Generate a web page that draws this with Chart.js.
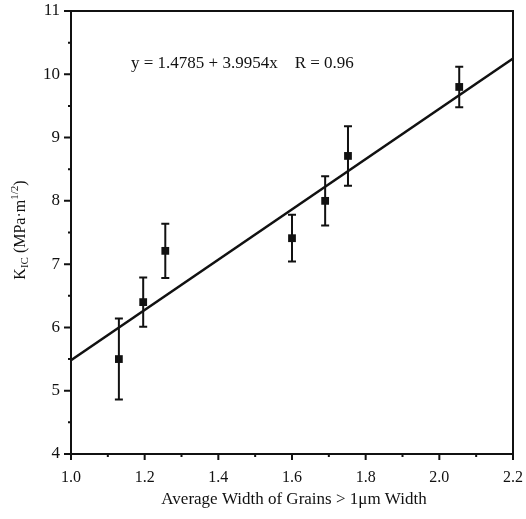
<!DOCTYPE html>
<html>
<head>
<meta charset="utf-8">
<script src="https://cdn.jsdelivr.net/npm/chart.js@4.4.1/dist/chart.umd.min.js"></script>
<style>
html,body{margin:0;padding:0;background:#fff;}
#wrap{width:526px;height:519px;}
</style>
</head>
<body>
<div id="wrap"><canvas id="c" width="526" height="519"></canvas></div>
<script>
// Data
const grainWidth = [1.13, 1.196, 1.256, 1.60, 1.69, 1.752, 2.054];
const kic        = [5.50, 6.40, 7.21, 7.41, 8.00, 8.71, 9.80];
const kicErr     = [0.64, 0.39, 0.43, 0.37, 0.39, 0.47, 0.32];
const fitX = [1.0, 2.2];
const fitY = [5.48, 10.25];
const xTickValues = [1.0, 1.2, 1.4, 1.6, 1.8, 2.0, 2.2];
const yTickValues = [4, 5, 6, 7, 8, 9, 10, 11];
const equationText = 'y = 1.4785 + 3.9954x    R = 0.96';
const xTitle = 'Average Width of Grains > 1\u03bcm Width';

const SERIF = '"Liberation Serif", "DejaVu Serif", serif';

const framePlugin = {
  id: 'frame',
  afterDatasetsDraw(chart) {
    const ctx = chart.ctx;
    const xs = chart.scales.x, ys = chart.scales.y;
    const ca = chart.chartArea;
    ctx.save();
    // error bars
    ctx.strokeStyle = '#111';
    ctx.lineWidth = 2;
    for (let i = 0; i < grainWidth.length; i++) {
      const px = xs.getPixelForValue(grainWidth[i]);
      const top = ys.getPixelForValue(kic[i] + kicErr[i]);
      const bot = ys.getPixelForValue(kic[i] - kicErr[i]);
      ctx.beginPath();
      ctx.moveTo(px, top); ctx.lineTo(px, bot);
      ctx.moveTo(px - 4, top); ctx.lineTo(px + 4, top);
      ctx.moveTo(px - 4, bot); ctx.lineTo(px + 4, bot);
      ctx.stroke();
    }
    // frame
    ctx.lineWidth = 2;
    ctx.strokeRect(ca.left, ca.top, ca.right - ca.left, ca.bottom - ca.top);
    // x ticks (outward)
    ctx.beginPath();
    for (let v = 10; v <= 22; v++) {
      const px = xs.getPixelForValue(v / 10);
      const len = (v % 2 === 0) ? 6 : 3;
      ctx.moveTo(px, ca.bottom); ctx.lineTo(px, ca.bottom + len);
    }
    // y ticks (outward)
    for (let v = 8; v <= 22; v++) {
      const py = ys.getPixelForValue(v / 2);
      const len = (v % 2 === 0) ? 7 : 3;
      ctx.moveTo(ca.left, py); ctx.lineTo(ca.left - len, py);
    }
    ctx.stroke();

    ctx.fillStyle = '#111';
    // equation
    ctx.font = '17px ' + SERIF;
    ctx.textAlign = 'left';
    ctx.textBaseline = 'middle';
    ctx.fillText(equationText, 131, 64);
    // x title
    ctx.textAlign = 'center';
    ctx.fillText(xTitle, 294, 500);
    // y title with sub/superscripts
    ctx.translate(21, 230);
    ctx.rotate(-Math.PI / 2);
    const parts = [
      {t: 'K', f: '16px ', dy: 0},
      {t: 'IC', f: '11px ', dy: 4},
      {t: ' (MPa\u00b7m', f: '16px ', dy: 0},
      {t: '1/2', f: '11px ', dy: -6},
      {t: ')', f: '16px ', dy: 0}
    ];
    let total = 0;
    parts.forEach(p => { ctx.font = p.f + SERIF; p.w = ctx.measureText(p.t).width; total += p.w; });
    let x0 = -total / 2;
    ctx.textAlign = 'left';
    parts.forEach(p => { ctx.font = p.f + SERIF; ctx.fillText(p.t, x0, p.dy); x0 += p.w; });
    ctx.restore();
  }
};

new Chart(document.getElementById('c'), {
  type: 'scatter',
  data: {
    datasets: [
      {
        type: 'line',
        data: fitX.map((x, i) => ({x: x, y: fitY[i]})),
        borderColor: '#111',
        borderWidth: 2.5,
        pointRadius: 0,
        fill: false
      },
      {
        data: grainWidth.map((x, i) => ({x: x, y: kic[i]})),
        pointStyle: 'rect',
        pointRadius: 5.5,
        backgroundColor: '#111',
        borderColor: '#111',
        borderWidth: 0
      }
    ]
  },
  options: {
    responsive: false,
    animation: false,
    layout: {padding: {top: 11, right: 13, left: 0, bottom: 0}},
    plugins: {legend: {display: false}, tooltip: {enabled: false}},
    scales: {
      x: {
        type: 'linear', min: 1.0, max: 2.2,
        afterBuildTicks: s => { s.ticks = xTickValues.map(v => ({value: v})); },
        afterFit: s => { s.height = 65; s.paddingLeft = 0; s.paddingRight = 0; },
        grid: {display: false, drawTicks: false},
        border: {display: false},
        ticks: {
          autoSkip: false, maxRotation: 0, padding: 14,
          color: '#111', font: {family: SERIF, size: 16},
          callback: v => Number(v).toFixed(1)
        }
      },
      y: {
        type: 'linear', min: 4, max: 11,
        afterBuildTicks: s => { s.ticks = yTickValues.map(v => ({value: v})); },
        afterFit: s => { s.width = 71; s.paddingTop = 0; s.paddingBottom = 0; },
        grid: {display: false, drawTicks: false},
        border: {display: false},
        ticks: {
          autoSkip: false, padding: 11,
          color: '#111', font: {family: SERIF, size: 17},
          callback: v => String(v)
        }
      }
    }
  },
  plugins: [framePlugin]
});
</script>
</body>
</html>
